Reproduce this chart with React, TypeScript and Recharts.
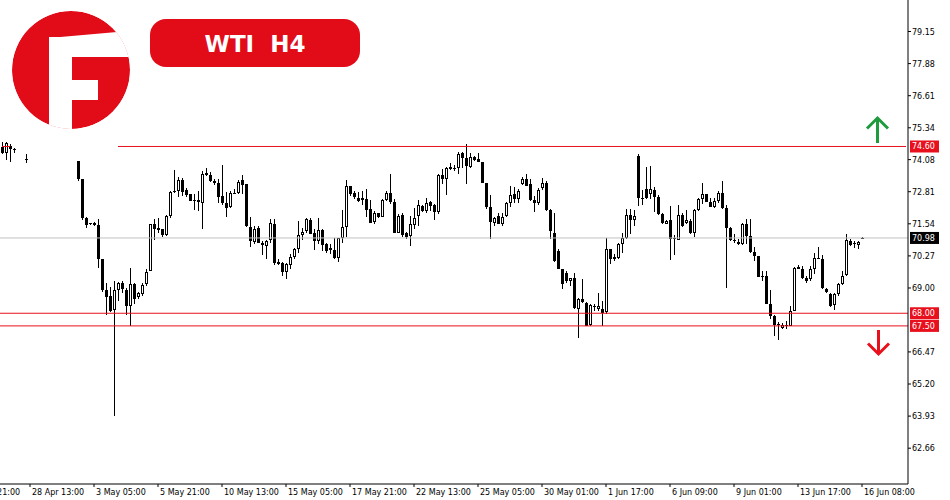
import React from 'react';
import { ComposedChart, Bar, XAxis, YAxis, ReferenceLine } from 'recharts';

// ---------- data (H4 candles, index = bar number) ----------
const opens: (number | null)[] = [
  74.56, 74.36, 74.62, 74.50, null, null, 74.12, null, null, null,
  null, null, null, null, null, null, null, null, null, 74.01,
  73.31, 71.77, 71.56, 71.57, 71.48, 70.13, 68.94, 68.68, 68.12, 68.92,
  69.18, 68.94, 68.28, 69.15, 68.64, 68.77, 69.14, 69.67, 71.52, 71.36,
  71.32, 71.09, 71.85, 72.78, 72.85, 73.27, 72.87, 72.71, 72.48, 72.48,
  72.38, 73.47, 73.47, 73.24, 73.17, 72.65, 72.36, 72.22, 72.74, 72.74,
  73.27, 73.11, 71.43, 70.82, 71.39, 70.79, 70.66, 70.89, 71.55, 70.03,
  70.00, 69.63, 69.92, 70.24, 70.56, 71.09, 71.26, 71.69, 71.16, 70.86,
  71.28, 70.73, 70.57, 70.49, 70.20, 70.99, 71.43, 73.02, 72.74, 72.58,
  72.49, 72.54, 72.12, 71.62, 71.96, 71.82, 72.47, 72.74, 72.41, 71.19,
  71.88, 71.17, 71.06, 71.51, 71.83, 72.26, 72.05, 72.41, 72.28, 72.01,
  73.49, 73.33, 73.77, 73.74, 73.73, 74.34, 74.13, 73.77, 74.17, 74.10,
  73.97, 73.15, 72.22, 71.59, 71.83, 71.52, 71.83, 72.35, 72.71, 72.54,
  73.11, 73.33, 73.11, 72.49, 72.35, 72.94, 73.15, 72.09, 71.19, 70.46,
  69.74, 69.60, 69.27, 69.38, 68.18, 68.57, 68.41, 67.55, 68.28, 68.15,
  68.15, 68.04, 70.53, 70.13, 70.17, 70.73, 70.99, 71.88, 71.69, 74.23,
  72.51, 72.91, 72.71, 72.87, 72.62, 71.94, 71.55, 71.69, 70.93, 70.90,
  71.89, 71.58, 71.65, 71.17, 72.09, 72.51, 72.71, 72.41, 72.22, 72.45,
  72.75, 72.16, 71.39, 70.88, 70.83, 70.73, 71.52, 71.06, 70.43, 70.27,
  69.48, 69.47, 68.37, 67.89, 67.56, 67.42, 67.52, 67.51, 68.08, 69.84,
  69.76, 69.41, 69.34, 69.74, 70.16, 70.13, 68.97, 68.75, 68.31, 68.75,
  69.14, 69.51, 70.86, 70.80, 70.69, 70.98,
];

const highs: (number | null)[] = [
  74.76, 74.76, 74.70, 74.55, null, null, 74.30, null, null, null,
  null, null, null, null, null, null, null, null, null, 74.03,
  73.33, 71.81, 71.59, 71.62, 71.72, 70.15, 69.21, 69.02, 69.27, 69.23,
  69.27, 68.98, 69.78, 69.18, 68.85, 69.18, 69.76, 71.55, 71.72, 71.75,
  71.35, 71.88, 72.84, 73.66, 73.40, 73.37, 72.94, 72.72, 72.71, 72.84,
  73.64, 73.73, 73.60, 73.31, 73.33, 73.86, 72.78, 72.83, 72.91, 73.28,
  73.47, 73.13, 71.79, 71.46, 71.46, 70.85, 70.90, 71.72, 71.72, 70.13,
  70.03, 70.00, 70.33, 70.60, 71.65, 71.39, 71.75, 71.75, 71.32, 71.75,
  71.32, 70.79, 70.73, 70.99, 70.99, 72.08, 73.27, 73.04, 72.84, 72.80,
  72.84, 72.91, 72.47, 72.05, 71.98, 72.51, 72.84, 73.50, 72.51, 71.92,
  71.96, 71.22, 71.83, 72.16, 72.47, 72.30, 72.58, 72.45, 72.31, 73.50,
  73.70, 73.77, 73.94, 73.86, 74.39, 74.39, 74.70, 74.36, 74.21, 74.34,
  74.00, 73.17, 72.67, 71.79, 71.96, 71.98, 72.41, 73.04, 72.98, 72.91,
  73.40, 73.50, 73.33, 72.64, 72.94, 73.37, 73.24, 72.12, 71.98, 70.53,
  69.76, 69.67, 69.41, 69.60, 68.61, 69.37, 68.44, 68.35, 68.35, 68.79,
  68.48, 70.99, 70.56, 70.33, 70.79, 71.19, 72.12, 72.12, 72.09, 74.30,
  72.87, 73.77, 73.81, 72.98, 72.67, 71.98, 71.69, 72.25, 71.10, 72.27,
  71.98, 72.09, 71.72, 72.12, 72.55, 73.15, 72.72, 72.58, 72.58, 72.84,
  73.24, 72.28, 71.43, 71.12, 70.93, 71.59, 71.72, 71.72, 70.64, 70.28,
  69.67, 69.67, 68.94, 67.95, 67.65, 67.62, 67.69, 68.28, 69.84, 69.90,
  69.87, 69.47, 69.87, 70.37, 70.64, 70.29, 69.01, 68.81, 68.81, 69.21,
  69.67, 71.12, 70.93, 70.86, 70.86, 71.00,
];

const lows: (number | null)[] = [
  74.30, 74.07, 74.00, 74.34, null, null, 73.93, null, null, null,
  null, null, null, null, null, null, null, null, null, 73.24,
  71.69, 71.39, 71.50, 71.45, 69.80, 68.84, 67.93, 68.06, 63.92, 68.48,
  68.79, 67.93, 67.50, 68.35, 68.55, 68.68, 69.08, 69.67, 70.90, 71.19,
  71.03, 71.06, 71.75, 72.75, 72.61, 72.65, 72.61, 72.44, 72.09, 72.05,
  71.35, 73.44, 73.20, 73.07, 72.38, 72.28, 71.79, 72.18, 72.71, 72.71,
  72.71, 71.43, 70.64, 70.73, 70.77, 70.29, 70.16, 70.79, 69.90, 69.90,
  69.47, 69.34, 69.74, 70.16, 70.40, 70.90, 71.19, 71.12, 70.50, 70.73,
  70.46, 70.40, 70.36, 70.16, 70.03, 70.79, 71.03, 72.65, 72.51, 72.41,
  72.28, 71.81, 71.56, 71.52, 71.75, 71.79, 72.45, 72.31, 71.17, 71.17,
  71.03, 70.93, 70.66, 71.32, 71.46, 72.01, 71.98, 72.05, 71.69, 71.92,
  73.11, 72.67, 73.68, 73.64, 73.50, 73.73, 73.11, 73.73, 74.03, 73.97,
  73.15, 72.12, 70.95, 71.46, 71.52, 71.46, 71.79, 72.22, 72.35, 72.38,
  73.07, 73.02, 72.45, 72.01, 72.28, 72.88, 72.05, 70.95, 70.03, 69.74,
  68.97, 69.21, 69.08, 68.15, 67.03, 68.39, 67.51, 67.49, 68.08, 68.08,
  67.49, 67.99, 69.93, 70.07, 70.13, 70.37, 70.95, 71.12, 71.46, 72.25,
  72.28, 72.51, 72.54, 72.01, 71.88, 71.52, 71.52, 70.11, 70.29, 70.88,
  71.40, 71.52, 71.12, 71.01, 72.05, 72.31, 72.40, 72.21, 72.18, 72.38,
  72.12, 69.01, 70.86, 70.79, 70.69, 70.69, 70.73, 70.37, 70.07, 69.44,
  69.27, 68.35, 67.78, 67.09, 66.93, 67.36, 67.38, 67.49, 68.08, 69.74,
  69.37, 69.21, 69.27, 69.54, 70.16, 68.97, 68.81, 68.26, 68.12, 68.70,
  69.10, 69.47, 70.66, 70.60, 70.53, 70.95,
];

const closes: (number | null)[] = [
  74.34, 74.73, 74.52, 74.45, null, null, 74.10, null, null, null,
  null, null, null, null, null, null, null, null, null, 73.31,
  71.75, 71.51, 71.54, 71.48, 70.13, 68.94, 68.64, 68.08, 68.94, 69.18,
  68.97, 68.28, 69.14, 68.57, 68.82, 69.10, 69.65, 71.52, 71.35, 71.28,
  71.09, 71.83, 72.78, 72.83, 73.27, 72.78, 72.69, 72.45, 72.46, 72.41,
  73.50, 73.56, 73.24, 73.15, 72.61, 72.38, 72.18, 72.74, 72.75, 73.21,
  73.08, 71.46, 70.86, 71.35, 70.79, 70.69, 70.86, 71.59, 69.97, 69.93,
  69.63, 69.93, 70.24, 70.56, 71.09, 71.23, 71.72, 71.15, 70.86, 71.28,
  70.69, 70.46, 70.50, 70.20, 70.99, 71.43, 73.02, 72.71, 72.61, 72.45,
  72.58, 72.09, 71.59, 71.98, 71.79, 72.47, 72.75, 72.41, 71.19, 71.83,
  71.09, 71.03, 71.55, 71.75, 72.30, 72.05, 72.38, 72.25, 72.01, 73.47,
  73.31, 73.73, 73.71, 73.72, 74.32, 74.13, 73.84, 74.17, 74.07, 73.99,
  73.17, 72.22, 71.61, 71.75, 71.55, 71.79, 72.35, 72.67, 72.51, 72.84,
  73.33, 73.04, 72.49, 72.38, 72.88, 73.15, 72.09, 71.26, 70.07, 69.76,
  69.14, 69.27, 69.38, 68.19, 68.57, 68.44, 67.51, 68.31, 68.30, 68.28,
  68.02, 70.53, 70.13, 70.24, 70.73, 70.99, 71.88, 71.69, 71.83, 72.55,
  72.58, 72.58, 72.91, 72.62, 71.92, 71.56, 71.65, 70.93, 70.97, 71.89,
  71.45, 71.71, 71.17, 72.09, 72.51, 72.71, 72.41, 72.22, 72.45, 72.75,
  72.16, 71.39, 70.90, 70.85, 70.73, 71.52, 71.06, 70.43, 70.27, 69.45,
  69.46, 68.37, 67.89, 67.52, 67.54, 67.52, 67.50, 68.08, 69.80, 69.76,
  69.41, 69.27, 69.74, 70.20, 70.20, 69.01, 68.84, 68.28, 68.75, 69.14,
  69.47, 70.89, 70.69, 70.79, 70.83, 70.98,
];

const EMPTY_BARS_RIGHT = 11;

const xTickIndex = [7, 23, 39, 55, 71, 87, 103, 119, 135, 151, 167, 183, 199, 215];
const xTickLabels = [
  '28 Apr 13:00', '3 May 05:00', '5 May 21:00', '10 May 13:00', '15 May 05:00',
  '17 May 21:00', '22 May 13:00', '25 May 05:00', '30 May 01:00', '1 Jun 17:00',
  '6 Jun 09:00', '9 Jun 01:00', '13 Jun 17:00', '16 Jun 08:00',
];
const prevTickLabel = '26 Apr 21:00';

const priceTicks = [79.15, 77.88, 76.61, 75.34, 74.08, 72.81, 71.54, 70.27, 69.0, 66.47, 65.2, 63.93, 62.66];
const Y_MIN = 61.243;
const Y_MAX = 80.397;

const resistance = 74.6;
const support1 = 68.0;
const support2 = 67.5;
const lastPrice = 70.98;
const resistanceStartBar = 29;
const resistanceStubEnd = 2;

const title = 'WTI  H4';

// ---------- styling ----------
const RED = '#e8101c';
const BRAND_RED = '#e20b18';
const GREEN = '#1f9a3c';
const AXIS_FONT = 'DejaVu Sans, Verdana, sans-serif';

const W = 950;
const H = 500;
const Y_AXIS_W = 42;
const X_AXIS_H = 16;
const PLOT_H = H - X_AXIS_H;
const PLOT_R = W - Y_AXIS_W;

const TOTAL = opens.length + EMPTY_BARS_RIGHT;
const data = Array.from({ length: TOTAL }, (_, i) => {
  const o = i < opens.length ? opens[i] : null;
  if (o == null) return { i, o: null, h: null, l: null, c: null, range: null };
  return { i, o, h: highs[i], l: lows[i], c: closes[i], range: [lows[i], highs[i]] };
});

const Candle = (props: any) => {
  const { x, y, width, height, payload } = props;
  if (!payload || payload.o == null) return null;
  const { o, h, l, c } = payload;
  const k = height > 0 && h > l ? height / (h - l) : PLOT_H / (Y_MAX - Y_MIN);
  const py = (p: number) => y + (h - p) * k;
  const fx = Math.floor(x + width / 2);
  const wx = fx + 0.5;
  const top = Math.round(py(Math.max(o, c)));
  const bot = Math.round(py(Math.min(o, c)));
  const hi = Math.round(py(h));
  const lo = Math.round(py(l));
  const bull = c >= o;
  const parts: any[] = [
    <line key="w" x1={wx} x2={wx} y1={hi} y2={Math.max(lo, hi + 1)} stroke="#000" strokeWidth={1} />,
  ];
  if (bot - top <= 1) {
    parts.push(<line key="d" x1={fx - 1} x2={fx + 2} y1={top + 0.5} y2={top + 0.5} stroke="#000" strokeWidth={1} />);
  } else if (bull) {
    parts.push(
      <rect key="b" x={fx - 0.5} y={top + 0.5} width={2} height={bot - top - 1} fill="#fff" stroke="#000" strokeWidth={1} />
    );
  } else {
    parts.push(<rect key="b" x={fx - 1} y={top} width={3} height={bot - top} fill="#000" />);
  }
  return <g>{parts}</g>;
};

const XTick = (props: any) => {
  const { x, payload } = props;
  const idx = xTickIndex.indexOf(payload.value);
  if (idx < 0) return null;
  const step = xTickIndex.length > 1 ? (PLOT_R / TOTAL) * (xTickIndex[1] - xTickIndex[0]) : 0;
  return (
    <g>
      <text x={x + 2} y={495} fontSize={8} fontFamily={AXIS_FONT} fill="#000" textAnchor="start">
        {xTickLabels[idx]}
      </text>
      {idx === 0 && (
        <>
          <line x1={x - step + 0.5} x2={x - step + 0.5} y1={PLOT_H} y2={PLOT_H + 3} stroke="#000" />
          <text x={x - step + 2} y={495} fontSize={8} fontFamily={AXIS_FONT} fill="#000" textAnchor="start">
            {prevTickLabel}
          </text>
        </>
      )}
    </g>
  );
};

const YTick = (props: any) => {
  const { x, y, payload } = props;
  return (
    <text x={x} y={y + 3} fontSize={8} fontFamily={AXIS_FONT} fill="#000" textAnchor="start">
      {Number(payload.value).toFixed(2)}
    </text>
  );
};

const makeTag = (value: number, bg: string) => (props: any) => {
  const vb = props.viewBox || {};
  const ly = vb.y ?? 0;
  return (
    <g>
      <rect x={PLOT_R + 2} y={ly - 6} width={29} height={12} fill={bg} />
      <text x={PLOT_R + 4} y={ly + 3} fontSize={8} fontFamily={AXIS_FONT} fill="#fff" textAnchor="start">
        {value.toFixed(2)}
      </text>
    </g>
  );
};

const Logo = () => (
  <g>
    <defs>
      <clipPath id="logoClip">
        <circle cx={71} cy={70} r={59} />
      </clipPath>
    </defs>
    <g clipPath="url(#logoClip)">
      <circle cx={71} cy={70} r={59} fill={BRAND_RED} />
      <g fill="#fff">
        <rect x={49} y={37} width={23} height={100} />
        <polygon points="49,38 117,32 140,30 140,57 49,57" />
        <rect x={72} y={80} width={26} height={20} />
      </g>
    </g>
  </g>
);

export default function App() {
  return (
    <div style={{ position: 'absolute', left: 0, top: 0, width: W, height: H, background: '#fff' }}>
      <ComposedChart
        width={W}
        height={H}
        data={data}
        margin={{ top: 0, right: 0, bottom: 0, left: 0 }}
        barCategoryGap={0}
      >
        <XAxis
          dataKey="i"
          type="category"
          ticks={xTickIndex}
          interval={0}
          height={X_AXIS_H}
          tick={<XTick />}
          tickSize={3}
          tickLine={{ stroke: '#000' }}
          axisLine={{ stroke: '#000' }}
        />
        <YAxis
          orientation="right"
          type="number"
          domain={[Y_MIN, Y_MAX]}
          allowDataOverflow
          ticks={priceTicks}
          interval={0}
          width={Y_AXIS_W}
          tick={<YTick />}
          tickSize={3}
          tickMargin={1}
          tickLine={{ stroke: '#000' }}
          axisLine={{ stroke: '#000' }}
        />
        <ReferenceLine y={lastPrice} stroke="#c0c0c0" strokeWidth={1} label={makeTag(lastPrice, '#000')} />
        <Bar dataKey={(d: any) => d.range} shape={<Candle />} isAnimationActive={false} />
        <ReferenceLine
          segment={[{ x: resistanceStartBar, y: resistance }, { x: TOTAL - 1, y: resistance }]}
          stroke={RED}
          strokeWidth={1}
          label={makeTag(resistance, RED)}
        />
        <ReferenceLine
          segment={[{ x: 0, y: resistance }, { x: resistanceStubEnd, y: resistance }]}
          stroke={RED}
          strokeWidth={1}
        />
        <ReferenceLine y={support1} stroke={RED} strokeWidth={1} label={makeTag(support1, RED)} />
        <ReferenceLine y={support2} stroke={RED} strokeWidth={1} label={makeTag(support2, RED)} />
      </ComposedChart>
      <svg
        width={W}
        height={H}
        style={{ position: 'absolute', left: 0, top: 0, pointerEvents: 'none' }}
      >
        <Logo />
        <rect x={150} y={19} width={210} height={48} rx={16} ry={16} fill={BRAND_RED} />
        <text
          x={255}
          y={51.5}
          fontSize={23}
          fontWeight="bold"
          fontFamily="DejaVu Sans, sans-serif"
          fill="#fff"
          textAnchor="middle"
          style={{ whiteSpace: 'pre' }}
        >
          {title}
        </text>
        <g fill="none" stroke={GREEN} strokeWidth={3}>
          <line x1={877.5} y1={143} x2={877.5} y2={118} />
          <polyline points="867,128.5 877.5,118 888,128.5" />
        </g>
        <g fill="none" stroke={RED} strokeWidth={3}>
          <line x1={878.5} y1={330} x2={878.5} y2={354} />
          <polyline points="868,343.5 878.5,354 889,343.5" />
        </g>
      </svg>
    </div>
  );
}
